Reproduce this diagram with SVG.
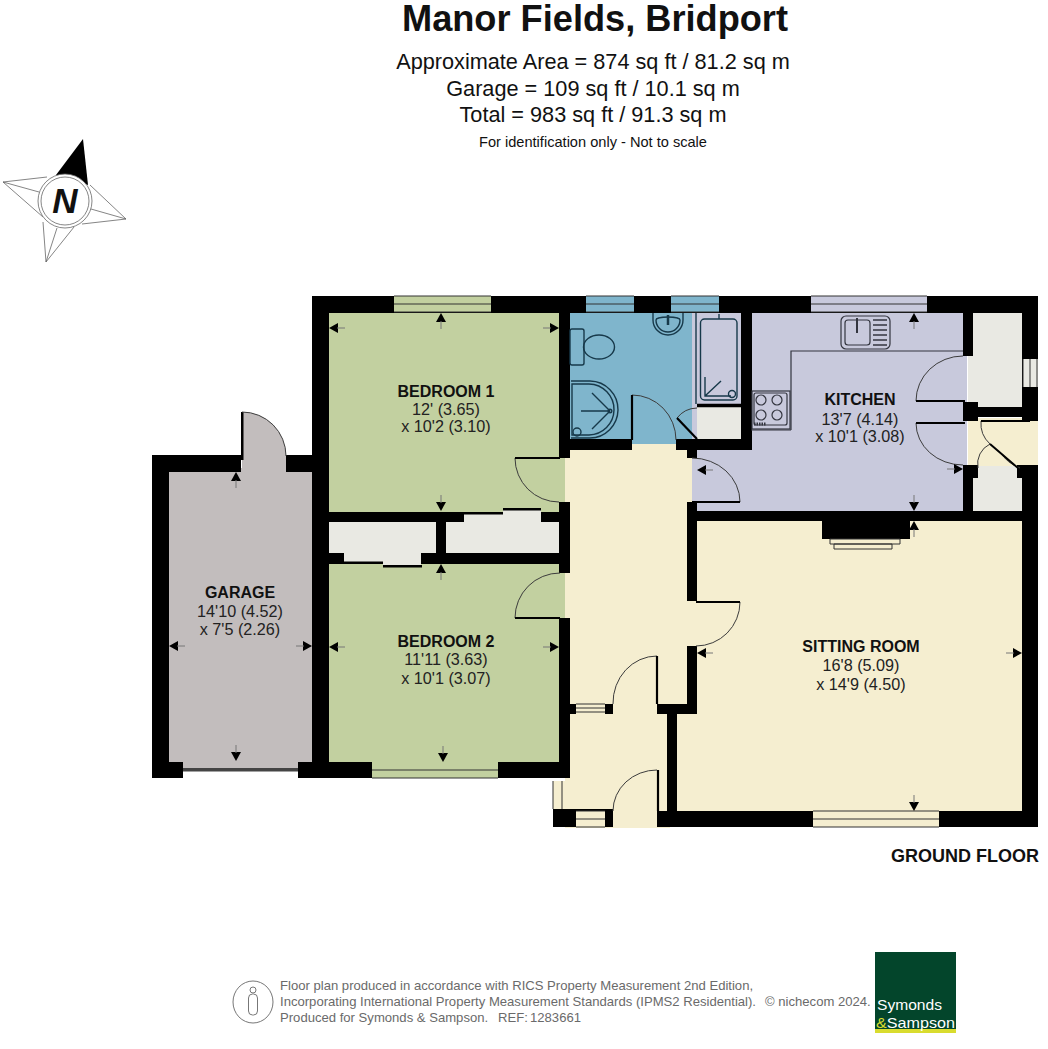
<svg xmlns="http://www.w3.org/2000/svg" width="1048" height="1049" viewBox="0 0 1048 1049">
<style>
text{font-family:"Liberation Sans",Arial,sans-serif;fill:#111}
.c{text-anchor:middle}
.rn{font-size:16px;font-weight:bold;text-anchor:middle}
.rd{font-size:16.2px;text-anchor:middle;fill:#222}
.w{fill:#000}
.cup{fill:#e9e9e3}
.bed{fill:#c2d0a0}.bath{fill:#7fb5cc}.kit{fill:#c8c9dc}.cream{fill:#f5eed0}.gar{fill:#c2bdbd}
.arc{fill:none;stroke:#3c3c3c;stroke-width:1}
.leaf{fill:none;stroke:#000;stroke-width:2.2}
.fx{fill:none;stroke:#17394a;stroke-width:1.4}
.fk{fill:none;stroke:#33353f;stroke-width:1.2}
.win{fill:none;stroke:#333;stroke-width:1}
.cmp{fill:none;stroke:#666;stroke-width:.8}
.ft{font-size:13.1px;fill:#6a6a6a}
</style>
<defs>
<g id="ar"><path d="M0 0L-5 9H5Z" fill="#000"/><path d="M0 8V16" stroke="#777" stroke-width="1"/></g>
</defs>
<rect width="1048" height="1049" fill="#fff"/>

<g id="title">
<text class="c" x="595" y="31" font-size="36.2" font-weight="bold">Manor Fields, Bridport</text>
<text class="c" x="593" y="69" font-size="21.7">Approximate Area = 874 sq ft / 81.2 sq m</text>
<text class="c" x="593" y="96" font-size="21.7">Garage = 109 sq ft / 10.1 sq m</text>
<text class="c" x="593" y="122" font-size="21.7">Total = 983 sq ft / 91.3 sq m</text>
<text class="c" x="593" y="147" font-size="14.6">For identification only - Not to scale</text>
</g>

<g id="compass">
<path class="cmp" d="M47 177L3 182 39 192M3 182L43 217"/>
<path class="cmp" d="M90 185L126 219 91 209M126 219L82 224"/>
<path class="cmp" d="M43 222L46 262 57 228M46 262L74 227"/>
<path d="M83 139L56 175 88 185Z" fill="#000"/>
<circle cx="65" cy="201" r="27" fill="#fff" stroke="#666" stroke-width=".8"/>
<circle cx="65" cy="201" r="24" fill="#fff" stroke="#666" stroke-width=".8"/>
<text class="c" x="65" y="213" font-size="35" font-weight="bold" font-style="italic">N</text>
</g>

<g id="plan-fills">
<rect class="bed" x="325" y="308" width="240" height="208"/>
<path class="bed" d="M515 458H565V505H515Z"/>
<rect class="bed" x="325" y="560" width="240" height="206"/>
<rect class="bath" x="565" y="308" width="180" height="136"/>
<rect class="kit" x="692" y="308" width="275" height="207"/>
<rect class="cream" x="565" y="444" width="127" height="265"/>
<rect class="cream" x="565" y="700" width="105" height="128"/>
<path class="cream" d="M672 518H1026V815H672V705H692V518Z"/>
<rect class="cream" x="968" y="418" width="70" height="50"/>
<rect class="cream" x="553" y="781" width="17" height="28"/>
<rect class="cup" x="968" y="312" width="56" height="95"/>
<rect class="cup" x="973" y="466" width="50" height="48"/>
<path class="cup" d="M329 518H464V513H503V509H541V518H561V556H421V566H383V562H344V556H329Z"/>
<rect class="cup" x="697" y="405" width="47" height="36"/>
<rect class="gar" x="165" y="468" width="150" height="301"/>
<path class="gar" d="M242 412A44 44 0 0 1 286 456V470H242Z"/>
</g>

<g id="walls" class="w">
<rect x="312" y="296" width="726" height="17"/>
<rect x="312" y="296" width="17" height="482"/>
<rect x="1022" y="296" width="16" height="125"/>
<rect x="1022" y="465" width="16" height="362"/>
<rect x="657" y="811" width="381" height="16"/>
<rect x="559" y="296" width="11" height="162"/>
<rect x="559" y="502" width="11" height="71"/>
<rect x="559" y="618" width="11" height="160"/>
<rect x="312" y="762" width="258" height="16"/>
<rect x="741" y="296" width="11" height="154"/>
<rect x="559" y="439" width="73" height="11"/>
<rect x="676" y="439" width="76" height="11"/>
<rect x="687" y="450" width="10" height="8"/>
<rect x="687" y="502" width="10" height="99"/>
<rect x="687" y="646" width="10" height="68"/>
<rect x="657" y="704" width="40" height="10"/>
<rect x="667" y="704" width="10" height="110"/>
<rect x="691" y="511" width="347" height="10"/>
<rect x="822" y="521" width="88" height="18"/>
<rect x="963" y="296" width="10" height="60"/>
<rect x="963" y="402" width="15" height="19"/>
<rect x="973" y="407" width="65" height="10"/>
<rect x="963" y="465" width="15" height="13"/>
<rect x="963" y="465" width="10" height="50"/>
<rect x="1017" y="465" width="21" height="13"/>
<rect x="329" y="512" width="135" height="10"/>
<rect x="541" y="512" width="20" height="10"/>
<rect x="436" y="520" width="10" height="36"/>
<rect x="329" y="553" width="15" height="11"/>
<rect x="421" y="553" width="140" height="11"/>
<rect x="464" y="512" width="39" height="2.5"/>
<rect x="503" y="508" width="38" height="2.5"/>
<rect x="344" y="561.500" width="39" height="2.500"/>
<rect x="383" y="565" width="39" height="2.500"/>
<rect x="570" y="704" width="43" height="10"/>
<rect x="553" y="809" width="60" height="18"/>
<rect x="152" y="455" width="89" height="17"/>
<rect x="286" y="455" width="28" height="17"/>
<rect x="152" y="455" width="17" height="323"/>
<rect x="152" y="762" width="31" height="16"/>
<rect x="298" y="762" width="20" height="16"/>
<rect x="183" y="768" width="115" height="3.500" fill="#444"/>
<rect x="241" y="412" width="2.500" height="48"/>
</g>

<g id="windows">
<g class="bed"><rect x="394" y="296" width="97" height="16"/><rect x="372" y="762" width="126" height="16"/></g>
<path class="win" d="M394 296H491M394 304H491M394 312H491M372 770H498M372 778H498"/>
<g class="bath"><rect x="586" y="296" width="48" height="16"/><rect x="671" y="296" width="48" height="16"/></g>
<path class="win" d="M586 304H634M671 304H719M586 296H634M671 296H719M586 312H634M671 312H719"/>
<rect class="kit" x="811" y="296" width="116" height="16"/>
<path class="win" d="M811 296H927M811 304H927M811 312H927"/>
<rect class="cream" x="813" y="811" width="126" height="16"/>
<path class="win" d="M813 811H939M813 819H939M813 827H939"/>
<rect class="cream" x="576" y="704" width="29" height="10"/>
<path class="win" d="M576 704H605M576 708H605M576 712H605"/>
<rect class="cream" x="576" y="811" width="29" height="16"/>
<path class="win" d="M576 811H605M576 819H605M576 827H605"/>
<rect class="cup" x="1023" y="359" width="15" height="28"/>
<path class="win" d="M1023 359V387M1030 359V387M1037 359V387"/>
<path class="win" d="M553 781V809M562 781V809"/>
<path class="win" d="M830 539H900V544H830ZM834 544H892V549H834Z" style="fill:#f5eed0"/>
</g>

<g id="doors">
<rect class="cream" x="613" y="811" width="44" height="16"/>
<path class="bath" d="M632 395A44 45 0 0 1 676 440V444H632Z"/>
<path class="arc" d="M515 458A44 44 0 0 0 559 502"/><path class="leaf" d="M515 458H560"/>
<path class="arc" d="M515 618A45 45 0 0 1 560 573"/><path class="leaf" d="M515 618H560"/>
<path class="arc" d="M632 395A44 45 0 0 1 676 440"/><path class="leaf" d="M632 395V440"/>
<path class="arc" d="M677 418A26 26 0 0 1 697 408"/><path class="leaf" d="M677 418L697 439"/>
<path class="arc" d="M692 458A48 44 0 0 1 740 502"/><path class="leaf" d="M692 502H740"/>
<path class="arc" d="M740 602A44 44 0 0 1 696 646"/><path class="leaf" d="M696 602H740"/>
<path class="arc" d="M613 704A44 47 0 0 1 657 656"/><path class="leaf" d="M657 656V704"/>
<path class="arc" d="M613 811A44 41 0 0 1 657 770"/><path class="leaf" d="M658 770V811"/>
<path class="arc" d="M916 401A47 45 0 0 1 963 356"/><path class="leaf" d="M916 401H965"/>
<path class="arc" d="M916 423A47 42 0 0 0 963 465"/><path class="leaf" d="M916 423H965"/>
<path class="arc" d="M981 421A28 28 0 0 0 990 444M990 444A22 22 0 0 0 978 468M1000 452A40 40 0 0 0 1020 468"/>
<path class="leaf" d="M981 421H1030M990 444L1018 468" style="stroke-width:2"/>
<path class="arc" d="M286 456A44 44 0 0 0 242 412"/>
</g>

<g id="fixtures">
<g class="fx">
<rect x="570" y="329" width="14" height="36" rx="2"/>
<ellipse cx="599" cy="347" rx="15.500" ry="12"/>
<path d="M653 313V320A15 15 0 0 0 683 320V313M656 320A12 12 0 0 0 680 320A12 3 0 0 0 656 320"/>
<path d="M668 315V325" stroke-width="2.500"/>
<path d="M696 313V404"/>
<rect x="700.500" y="319" width="36.500" height="81" rx="4"/>
<path d="M705 377V396H731M705 396L721 381"/>
<circle cx="732" cy="394" r="3.500"/>
<path d="M719 319V314"/>
<path d="M571 381H590A28.500 28.500 0 0 1 618 410A28.500 28.500 0 0 1 590 438H571M572 384H589A25.500 25.500 0 0 1 614 410A25.500 25.500 0 0 1 589 435H572V384Z"/>
<path d="M610 411H581M610 411L592 393M610 411L592 429"/>
<circle cx="610" cy="411" r="1.800"/>
<circle cx="577" cy="432" r="4"/>
<path d="M697 405.500H742" stroke="#000" stroke-width="3.500"/>
</g>
<g class="fk">
<path d="M791 430V351H963M751 430H791"/>
<rect x="752" y="391" width="38" height="38"/>
<rect x="754" y="393" width="33" height="32" rx="2"/>
<circle cx="761" cy="400" r="5"/><circle cx="777" cy="400" r="5"/>
<circle cx="761" cy="415" r="5"/><circle cx="777" cy="415" r="5"/>
<path d="M754 424H766" stroke-width="3" stroke-dasharray="1.500 1"/>
<rect x="841" y="316" width="49" height="33" rx="5"/>
<rect x="845" y="320" width="25" height="25" rx="3"/>
<path d="M857 318V333" stroke-width="2"/>
<path d="M873 320H887M873 325H887M873 330H887M873 335H887M873 340H887M873 345H887" stroke-width="1.500"/>
</g>
</g>

<g id="dimension-arrows">
<use href="#ar" transform="translate(441 313)"/><use href="#ar" transform="translate(441 511) rotate(180)"/>
<use href="#ar" transform="translate(329 328) rotate(-90)"/><use href="#ar" transform="translate(559 328) rotate(90)"/>
<use href="#ar" transform="translate(441 564)"/><use href="#ar" transform="translate(443 762) rotate(180)"/>
<use href="#ar" transform="translate(329 647) rotate(-90)"/><use href="#ar" transform="translate(559 647) rotate(90)"/>
<use href="#ar" transform="translate(236 472)"/><use href="#ar" transform="translate(236 761) rotate(180)"/>
<use href="#ar" transform="translate(169 646) rotate(-90)"/><use href="#ar" transform="translate(312 646) rotate(90)"/>
<use href="#ar" transform="translate(914 313)"/><use href="#ar" transform="translate(914 511) rotate(180)"/>
<use href="#ar" transform="translate(697 470) rotate(-90)"/><use href="#ar" transform="translate(963 469) rotate(90)"/>
<use href="#ar" transform="translate(914 521)"/><use href="#ar" transform="translate(914 811) rotate(180)"/>
<use href="#ar" transform="translate(697 653) rotate(-90)"/><use href="#ar" transform="translate(1022 653) rotate(90)"/>
</g>

<g id="room-bedroom-1"><text class="rn" x="446" y="397">BEDROOM 1</text><text class="rd" x="446" y="415">12' (3.65)</text><text class="rd" x="446" y="432">x 10'2 (3.10)</text></g>
<g id="room-bedroom-2"><text class="rn" x="446" y="647">BEDROOM 2</text><text class="rd" x="446" y="665">11'11 (3.63)</text><text class="rd" x="446" y="684">x 10'1 (3.07)</text></g>
<g id="room-garage"><text class="rn" x="240" y="598">GARAGE</text><text class="rd" x="240" y="617">14'10 (4.52)</text><text class="rd" x="240" y="635">x 7'5 (2.26)</text></g>
<g id="room-kitchen"><text class="rn" x="860" y="405">KITCHEN</text><text class="rd" x="860" y="425">13'7 (4.14)</text><text class="rd" x="860" y="442">x 10'1 (3.08)</text></g>
<g id="room-sitting"><text class="rn" x="861" y="652">SITTING ROOM</text><text class="rd" x="861" y="671">16'8 (5.09)</text><text class="rd" x="861" y="690">x 14'9 (4.50)</text></g>
<text x="1039" y="862" font-size="18" font-weight="bold" text-anchor="end">GROUND FLOOR</text>

<g id="footer">
<ellipse cx="253" cy="1002" rx="20" ry="21" fill="none" stroke="#777" stroke-width="1"/>
<circle cx="253" cy="990" r="3" fill="none" stroke="#777"/>
<rect x="248.500" y="994" width="9" height="21" rx="4" fill="none" stroke="#777"/>
<text class="ft" x="280" y="990">Floor plan produced in accordance with RICS Property Measurement 2nd Edition,</text>
<text class="ft" x="280" y="1006">Incorporating International Property Measurement Standards (IPMS2 Residential).</text>
<text class="ft" x="280" y="1022">Produced for Symonds &amp; Sampson.</text>
<text class="ft" x="498" y="1022">REF:</text>
<text class="ft" x="530" y="1022">1283661</text>
<text class="ft" x="765" y="1006">© nichecom 2024.</text>
<rect x="875" y="952" width="81" height="77" fill="#03452b"/>
<rect x="875" y="1029" width="81" height="4" fill="#d9dc2e"/>
<text x="877" y="1010" font-size="15" textLength="65" lengthAdjust="spacingAndGlyphs" style="fill:#fff">Symonds</text>
<text x="876" y="1027.500" font-size="15" textLength="79" lengthAdjust="spacingAndGlyphs" style="fill:#fff"><tspan style="fill:#d9dc2e">&amp;</tspan>Sampson</text>
</g>
</svg>
